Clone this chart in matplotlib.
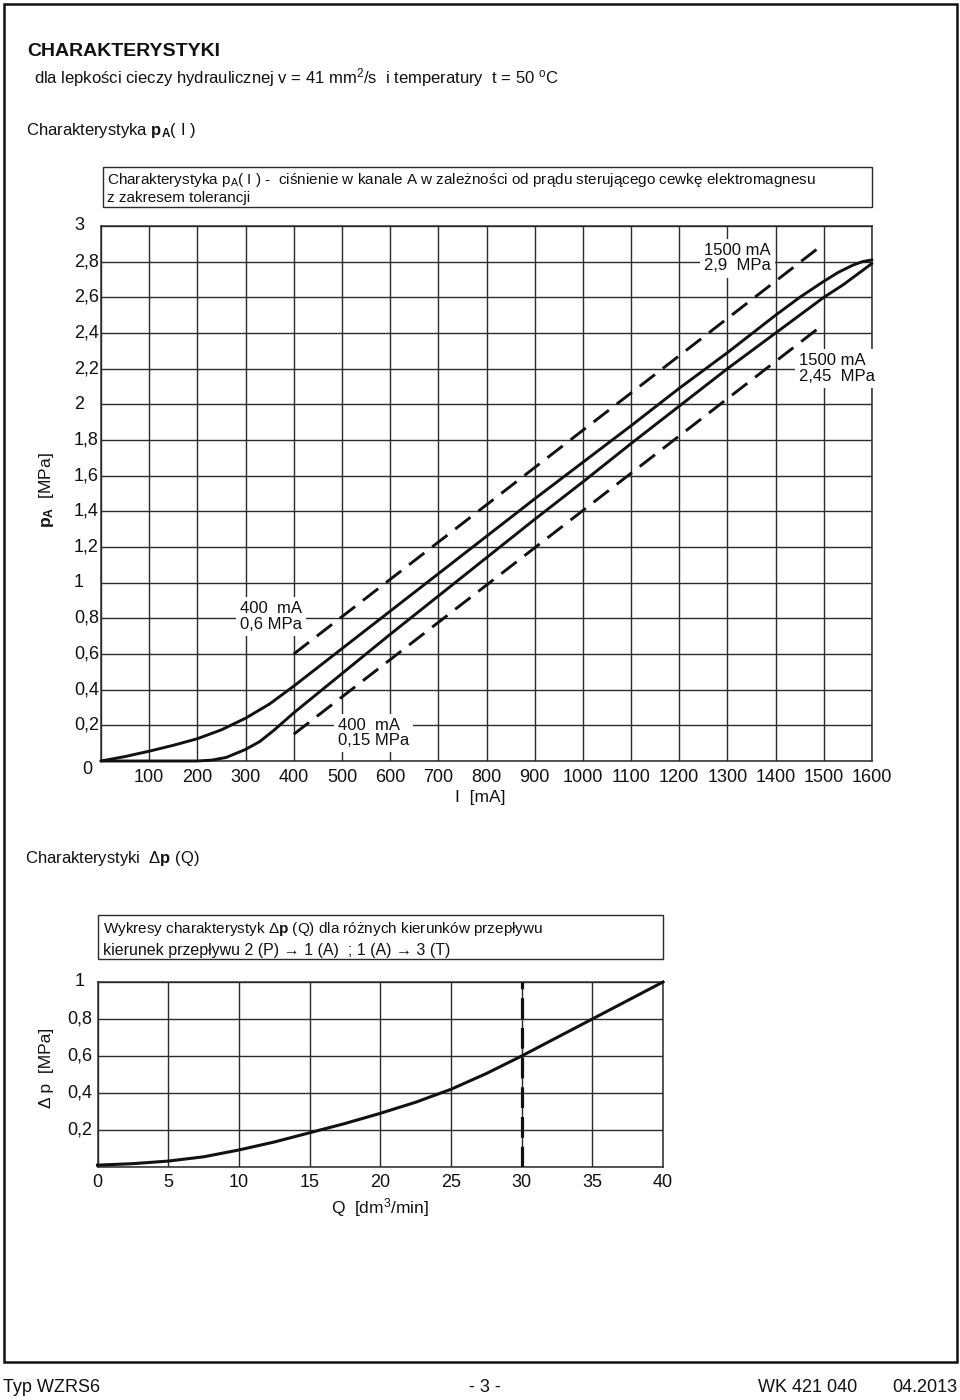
"""Rebuild the WZRS6 characteristic sheet (p_A(I) and dp(Q)) as out.png."""

from __future__ import annotations

import matplotlib

matplotlib.use("Agg")
import matplotlib.pyplot as plt  # noqa: E402
from matplotlib import font_manager  # noqa: E402
from matplotlib.patches import Rectangle  # noqa: E402
from matplotlib.transforms import blended_transform_factory, offset_copy  # noqa: E402

W, H = 960, 1400

# --- p_A(I): values ---
I_UPPER = [0, 50, 100, 150, 200, 250, 300, 350, 400, 450, 500, 600, 700, 800,
           900, 1000, 1100, 1200, 1300, 1400, 1450, 1500, 1530, 1560, 1580, 1600]
P_UPPER = [0.0, 0.025, 0.055, 0.088, 0.125, 0.175, 0.24, 0.32, 0.42, 0.525, 0.63,
           0.84, 1.05, 1.26, 1.47, 1.675, 1.88, 2.09, 2.29, 2.50, 2.60, 2.69,
           2.74, 2.78, 2.80, 2.81]

I_LOWER = [0, 100, 200, 230, 260, 300, 330, 360, 400, 450, 500, 600, 700, 800,
           900, 1000, 1100, 1200, 1300, 1400, 1500, 1540, 1570, 1600]
P_LOWER = [0.0, 0.0, 0.0, 0.005, 0.02, 0.065, 0.11, 0.175, 0.27, 0.38, 0.49,
           0.71, 0.925, 1.14, 1.355, 1.565, 1.78, 1.99, 2.20, 2.40, 2.60, 2.67,
           2.73, 2.79]

# tolerance band (dashed)
I_TOL = [400, 1500]
P_TOL_HIGH = [0.6, 2.9]
P_TOL_LOW = [0.15, 2.45]

I_TICKS = [0, 100, 200, 300, 400, 500, 600, 700, 800, 900, 1000, 1100, 1200,
           1300, 1400, 1500, 1600]
I_TICK_LABELS = ["", "100", "200", "300", "400", "500", "600", "700", "800",
                 "900", "1000", "1100", "1200", "1300", "1400", "1500", "1600"]
P_TICKS = [0, 0.2, 0.4, 0.6, 0.8, 1.0, 1.2, 1.4, 1.6, 1.8, 2.0, 2.2, 2.4, 2.6,
           2.8, 3.0]
P_TICK_LABELS = ["0", "0,2", "0,4", "0,6", "0,8", "1", "1,2", "1,4", "1,6",
                 "1,8", "2", "2,2", "2,4", "2,6", "2,8", "3"]

# --- dp(Q) ---
Q = [0, 2.5, 5, 7.5, 10, 12.5, 15, 17.5, 20, 22.5, 25, 27.5, 30, 32.5, 35,
     37.5, 40]
DP = [0.01, 0.018, 0.032, 0.055, 0.092, 0.135, 0.185, 0.235, 0.29, 0.35, 0.42,
      0.505, 0.60, 0.70, 0.80, 0.90, 1.0]
Q_MARK = 30

Q_TICKS = [0, 5, 10, 15, 20, 25, 30, 35, 40]
Q_TICK_LABELS = ["0", "5", "10", "15", "20", "25", "30", "35", "40"]
DP_TICKS = [0, 0.2, 0.4, 0.6, 0.8, 1.0]
DP_TICK_LABELS = ["", "0,2", "0,4", "0,6", "0,8", "1"]

GRID = "#2b2b2b"
INK = "#111111"
TICK_FS = 13


def pick_font() -> str:
    names = {f.name for f in font_manager.fontManager.ttflist}
    for name in ("Liberation Sans Narrow", "Liberation Sans", "DejaVu Sans"):
        if name in names:
            return name
    return "DejaVu Sans"


def fig_box(x0, y0, x1, y1):
    # pixel box, origin top-left -> [left, bottom, width, height] in figure fraction
    return [x0 / W, 1 - y1 / H, (x1 - x0) / W, (y1 - y0) / H]


def ftext(fig, x, y, s, **kw):
    kw.setdefault("color", INK)
    return fig.text(x / W, 1 - y / H, s, **kw)


def frame(fig, x0, y0, x1, y1, lw=1.0, ec=GRID):
    fig.add_artist(Rectangle((x0 / W, 1 - y1 / H), (x1 - x0) / W, (y1 - y0) / H,
                             transform=fig.transFigure, fill=False, lw=lw, ec=ec))


def style_grid(ax):
    ax.grid(True, color=GRID, lw=1.0)
    ax.set_axisbelow(True)
    ax.tick_params(length=0)
    for sp in ax.spines.values():
        sp.set_color(GRID)
        sp.set_linewidth(1.1)


def draw_pa(fig):
    ax = fig.add_axes(fig_box(101, 226, 872, 761))
    ax.set_xlim(0, 1600)
    ax.set_ylim(0, 3)
    ax.set_xticks(I_TICKS)
    ax.set_xticklabels(I_TICK_LABELS, fontsize=TICK_FS, color=INK)
    ax.tick_params(axis="x", pad=6)
    ax.set_yticks(P_TICKS)
    ax.set_yticklabels([])
    style_grid(ax)

    ytr = blended_transform_factory(ax.transAxes, ax.transData)
    for v, lab in zip(P_TICKS, P_TICK_LABELS):
        if v == 0:
            tr = offset_copy(ytr, fig=fig, x=8, y=-9, units="dots")
        else:
            tr = ytr
        ax.text(-0.035, v, lab, transform=tr, ha="left", va="center",
                fontsize=TICK_FS, color=INK)

    ax.plot(I_UPPER, P_UPPER, color=INK, lw=2.1, zorder=4, clip_on=False,
            solid_capstyle="round")
    ax.plot(I_LOWER, P_LOWER, color=INK, lw=2.1, zorder=4, clip_on=False,
            solid_capstyle="round")
    ax.plot(I_TOL, P_TOL_HIGH, color=INK, lw=2.1, dashes=(6.6, 3.4), zorder=4)
    ax.plot(I_TOL, P_TOL_LOW, color=INK, lw=2.1, dashes=(6.6, 3.4), zorder=4)

    box = dict(fc="white", ec="none", pad=3)
    notes = [
        (288, 0.81, "400  mA\n0,6 MPa"),
        (492, 0.157, "400  mA\n0,15 MPa"),
        (1251, 2.82, "1500 mA\n2,9  MPa"),
        (1448, 2.20, "1500 mA\n2,45  MPa"),
    ]
    for x, y, s in notes:
        ax.text(x, y, s, ha="left", va="center", fontsize=12, color=INK,
                linespacing=1.05, bbox=box, zorder=3)

    ftext(fig, 480, 798, "I  [mA]", ha="center", va="center", fontsize=12.5)
    ftext(fig, 46, 490, r"$\mathbf{p}_{\mathbf{A}}$  [MPa]", rotation=90,
          ha="center", va="center", fontsize=12.5)


def draw_dp(fig):
    ax = fig.add_axes(fig_box(97.5, 982, 663, 1167))
    ax.set_xlim(0, 40)
    ax.set_ylim(0, 1)
    ax.set_xticks(Q_TICKS)
    ax.set_xticklabels(Q_TICK_LABELS, fontsize=TICK_FS, color=INK)
    ax.tick_params(axis="x", pad=5)
    ax.set_yticks(DP_TICKS)
    ax.set_yticklabels([])
    style_grid(ax)

    ytr = blended_transform_factory(ax.transAxes, ax.transData)
    for v, lab in zip(DP_TICKS, DP_TICK_LABELS):
        ax.text(-0.031, v, lab, transform=ytr, ha="center", va="center",
                fontsize=TICK_FS, color=INK)

    ax.plot(Q, DP, color=INK, lw=2.2, zorder=4, clip_on=False)
    ax.axvline(Q_MARK, color=INK, lw=2.3, dashes=(6.5, 2.8), zorder=4)

    ftext(fig, 380, 1208, r"Q  [dm$^{3}$/min]", ha="center", va="center",
          fontsize=12.5)
    ftext(fig, 47, 1068, "Δ p  [MPa]", rotation=90, ha="center", va="center",
          fontsize=12.5)


def main() -> None:
    font = pick_font()
    plt.rcParams["font.family"] = [font, "DejaVu Sans"]
    plt.rcParams["mathtext.fontset"] = "custom"
    plt.rcParams["mathtext.rm"] = font
    plt.rcParams["mathtext.it"] = font
    plt.rcParams["mathtext.bf"] = f"{font}:bold"

    fig = plt.figure(figsize=(W / 100, H / 100), dpi=100)
    fig.patch.set_facecolor("white")

    # page border
    frame(fig, 4, 4, 957, 1362, lw=1.8, ec=INK)

    ftext(fig, 27, 51, "CHARAKTERYSTYKI", ha="left", va="center",
          fontsize=14, fontweight="bold")
    ftext(fig, 34, 78,
          r"dla lepkości cieczy hydraulicznej v = 41 mm$^{2}$/s  i temperatury  "
          r"t = 50 $^{\mathrm{o}}$C",
          ha="left", va="center", fontsize=12)
    ftext(fig, 26, 130, r"Charakterystyka $\mathbf{p}_{\mathbf{A}}$( I )",
          ha="left", va="center", fontsize=12)

    frame(fig, 103, 167, 872, 207)
    ftext(fig, 107, 180,
          r"Charakterystyka p$_{\mathrm{A}}$( I ) -  ciśnienie w kanale A w "
          "zależności od prądu sterującego cewkę elektromagnesu",
          ha="left", va="center", fontsize=11)
    ftext(fig, 107, 198, "z zakresem tolerancji", ha="left", va="center",
          fontsize=11)

    draw_pa(fig)

    ftext(fig, 25, 858, r"Charakterystyki  Δ$\mathbf{p}$ (Q)", ha="left",
          va="center", fontsize=12)

    frame(fig, 97.5, 915, 663, 959)
    ftext(fig, 103, 929,
          r"Wykresy charakterystyk Δ$\mathbf{p}$ (Q) dla różnych kierunków przepływu",
          ha="left", va="center", fontsize=11)
    ftext(fig, 103, 950,
          "kierunek przepływu 2 (P) → 1 (A)  ; 1 (A) → 3 (T)",
          ha="left", va="center", fontsize=11.5)

    draw_dp(fig)

    ftext(fig, 3, 1388, "Typ WZRS6", ha="left", va="center", fontsize=13)
    ftext(fig, 485, 1388, "- 3 -", ha="center", va="center", fontsize=13)
    ftext(fig, 758, 1388, "WK 421 040", ha="left", va="center", fontsize=13)
    ftext(fig, 957, 1388, "04.2013", ha="right", va="center", fontsize=13)

    fig.savefig("out.png", dpi=100, facecolor="white")
    plt.close(fig)


if __name__ == "__main__":
    main()
